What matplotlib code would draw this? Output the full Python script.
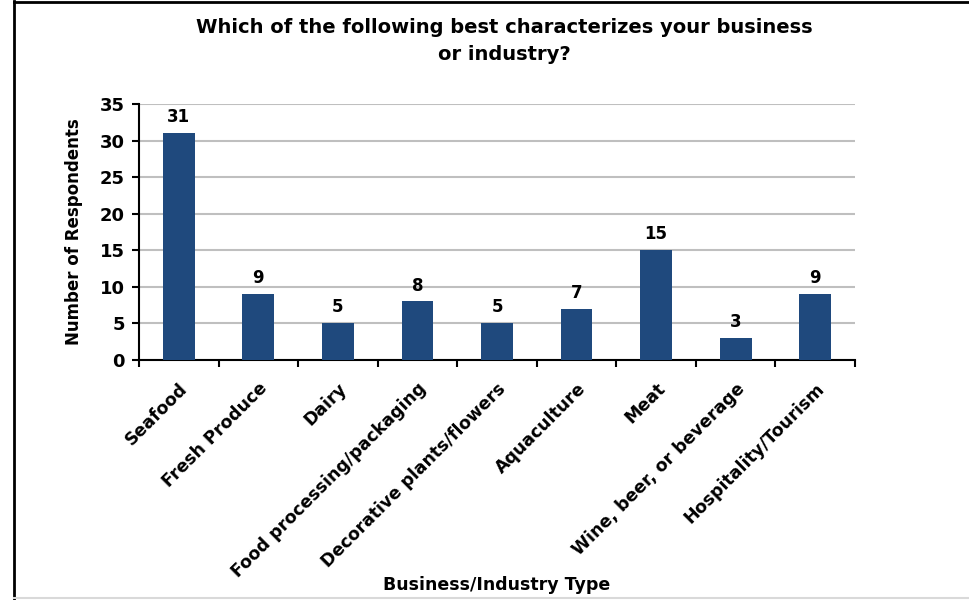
import matplotlib
matplotlib.use("Agg")
import matplotlib.pyplot as plt
from matplotlib.lines import Line2D

# chart data
categories = ["Seafood", "Fresh Produce", "Dairy", "Food processing/packaging",
              "Decorative plants/flowers", "Aquaculture", "Meat",
              "Wine, beer, or beverage", "Hospitality/Tourism"]
counts = [31, 9, 5, 8, 5, 7, 15, 3, 9]
y_ticks = [0, 5, 10, 15, 20, 25, 30, 35]

bar_color = "#1F497D"
plt.rcParams["font.family"] = ["DejaVu Sans"]
plt.rcParams["font.weight"] = "bold"

fig = plt.figure(figsize=(9.69, 6.0), dpi=100)
ax = fig.add_axes([0.1434, 0.40, 0.7390, 0.4267])

x = list(range(len(categories)))
bars = ax.bar(x, counts, width=0.4, color=bar_color, zorder=3)

ax.set_xlim(-0.5, len(categories) - 0.5)
ax.set_ylim(0, 35)
ax.set_yticks(y_ticks)
ax.yaxis.grid(True, color="#BFBFBF", linewidth=1.5, zorder=0)
ax.set_axisbelow(True)

for rect, v in zip(bars, counts):
    ax.annotate(str(v), (rect.get_x() + rect.get_width() / 2, v),
                xytext=(0, 5), textcoords="offset points",
                ha="center", va="bottom", fontsize=12, fontweight="bold")

# category boundary ticks on x axis
ax.set_xticks([i - 0.5 for i in range(len(categories) + 1)], minor=False)
ax.set_xticklabels([])
ax.set_xticks(x, minor=True)
ax.set_xticklabels(categories, minor=True, rotation=45, ha="right",
                   rotation_mode="anchor", fontsize=12.5, fontweight="bold")
ax.tick_params(axis="x", which="minor", length=0, pad=14)
ax.tick_params(axis="x", which="major", length=5, width=1.5, direction="out")
ax.tick_params(axis="y", length=5, width=1.5, labelsize=13, pad=5)
for lbl in ax.get_yticklabels():
    lbl.set_fontweight("bold")

for side in ["top", "right"]:
    ax.spines[side].set_visible(False)
for side in ["left", "bottom"]:
    ax.spines[side].set_linewidth(1.5)

ax.set_ylabel("Number of Respondents", fontsize=12, fontweight="bold", labelpad=12)
fig.text(0.513, 0.025, "Business/Industry Type", ha="center", va="center",
         fontsize=12.5, fontweight="bold")
fig.text(0.52, 0.932, "Which of the following best characterizes your business\nor industry?",
         ha="center", va="center", fontsize=14, fontweight="bold", linespacing=1.5)

# outer frame edges
fig.add_artist(Line2D([0.0145, 0.0145], [0, 0.998], transform=fig.transFigure,
                      color="black", linewidth=2))
fig.add_artist(Line2D([0.0145, 1.0], [0.997, 0.997], transform=fig.transFigure,
                      color="black", linewidth=2))
fig.add_artist(Line2D([0.0145, 1.0], [0.003, 0.003], transform=fig.transFigure,
                      color="#D9D9D9", linewidth=1.5))

fig.savefig("out.png", dpi=100)
